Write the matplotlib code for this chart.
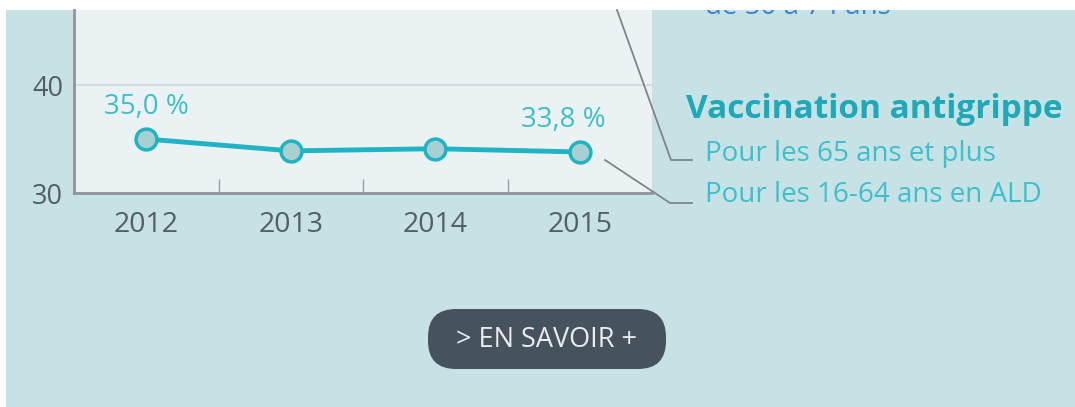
import matplotlib
matplotlib.use("Agg")
import matplotlib.pyplot as plt
from matplotlib.patches import FancyBboxPatch, Rectangle
from matplotlib.lines import Line2D

plt.rcParams['font.family'] = ['Open Sans', 'DejaVu Sans']

years = [2012, 2013, 2014, 2015]
values = [35.0, 33.9, 34.1, 33.8]
value_labels = {2012: "35,0 %", 2015: "33,8 %"}
y_ticks = [30, 40]
title = "Vaccination antigrippe"
legend_items = ["Pour les 65 ans et plus", "Pour les 16-64 ans en ALD"]
top_text = "de 50 à 74 ans"
button_text = "> EN SAVOIR +"

W, H = 1075, 407
fig = plt.figure(figsize=(W / 100, H / 100), dpi=100, facecolor="white")

def fx(px):
    return px / W

def fy(py):
    return 1 - py / H

BG = "#c6e2e4"
PANEL = "#eaf2f4"
TEAL = "#1fb3c4"
LABEL = "#3fbfcd"
GRAY = "#8e9599"

# background region
bg = fig.add_axes([fx(6), 0, 1 - fx(6), fy(10)])
bg.set_xlim(6, W)
bg.set_ylim(H, 10)
bg.axis("off")
bg.add_patch(Rectangle((6, 10), W - 6, H - 10, facecolor=BG, edgecolor="none"))

# partially hidden text at top (cut by the frame, as in the original)
bg.text(705, 14, top_text, color="#3c82d0", fontsize=20, ha="left", va="baseline",
        clip_on=True)

# main plot axes
ax = fig.add_axes([fx(74), fy(193), fx(652 - 74), fy(10) - fy(193)])
ax.set_facecolor(PANEL)
ax.set_xlim(2011.5, 2015.5)
ax.set_ylim(30, 30 + (193 - 10) / 10.8)
ax.plot(years, values, color=TEAL, lw=3.5, zorder=3, solid_capstyle="round")
ax.plot(years, values, "o", ms=15, mfc="#a8d0d3", mec=TEAL, mew=2.5, zorder=4,
        linestyle="none")
for yr, v in zip(years, values):
    if yr in value_labels:
        off = -12 if yr == 2015 else 0
        ax.annotate(value_labels[yr], (yr, v), xytext=(off, 13), textcoords="offset points",
                    ha="center", va="bottom", color=LABEL, fontsize=20)

ax.set_yticks(y_ticks)
ax.set_yticklabels([str(t) for t in y_ticks])
ax.grid(axis="y", color="#d3dcdf", lw=1.5)
ax.set_axisbelow(True)
ax.set_xticks(years)
ax.set_xticklabels([str(y) for y in years])
ax.set_xticks([2012.5, 2013.5, 2014.5], minor=True)
ax.tick_params(axis="x", which="major", length=0, pad=13, labelsize=20.5, labelcolor="#555e66")
ax.tick_params(axis="x", which="minor", length=10, direction="in", color="#9aa0a4", width=1)
ax.tick_params(axis="y", length=0, pad=8, labelsize=19.5, labelcolor="#555e66")
for s in ["top", "right"]:
    ax.spines[s].set_visible(False)
for s in ["left", "bottom"]:
    ax.spines[s].set_color(GRAY)
    ax.spines[s].set_linewidth(2)

# overlay for leader lines and text (pixel coords)
ov = fig.add_axes([0, 0, 1, 1])
ov.set_xlim(0, W)
ov.set_ylim(H, 0)
ov.axis("off")
ov.add_line(Line2D([617, 671, 692], [10, 160, 160], color="#7f8487", lw=1.3))
ov.add_line(Line2D([605, 670, 692], [160, 203, 203], color="#7f8487", lw=1.3))

ov.text(686, 109, title, color="#1ea8b8", fontsize=24, fontweight="bold",
        ha="left", va="center")
ov.text(705, 154, legend_items[0], color=LABEL, fontsize=20, ha="left", va="center")
ov.text(705, 195, legend_items[1], color=LABEL, fontsize=20, ha="left", va="center")

# button
ov.add_patch(FancyBboxPatch((428, 309), 238, 60,
                            boxstyle="round,pad=0,rounding_size=28",
                            facecolor="#46535f", edgecolor="none"))
ov.text(547, 340, button_text, color="#ebebeb", fontsize=19.5,
        ha="center", va="center")

fig.savefig("out.png", dpi=100, facecolor="white")
